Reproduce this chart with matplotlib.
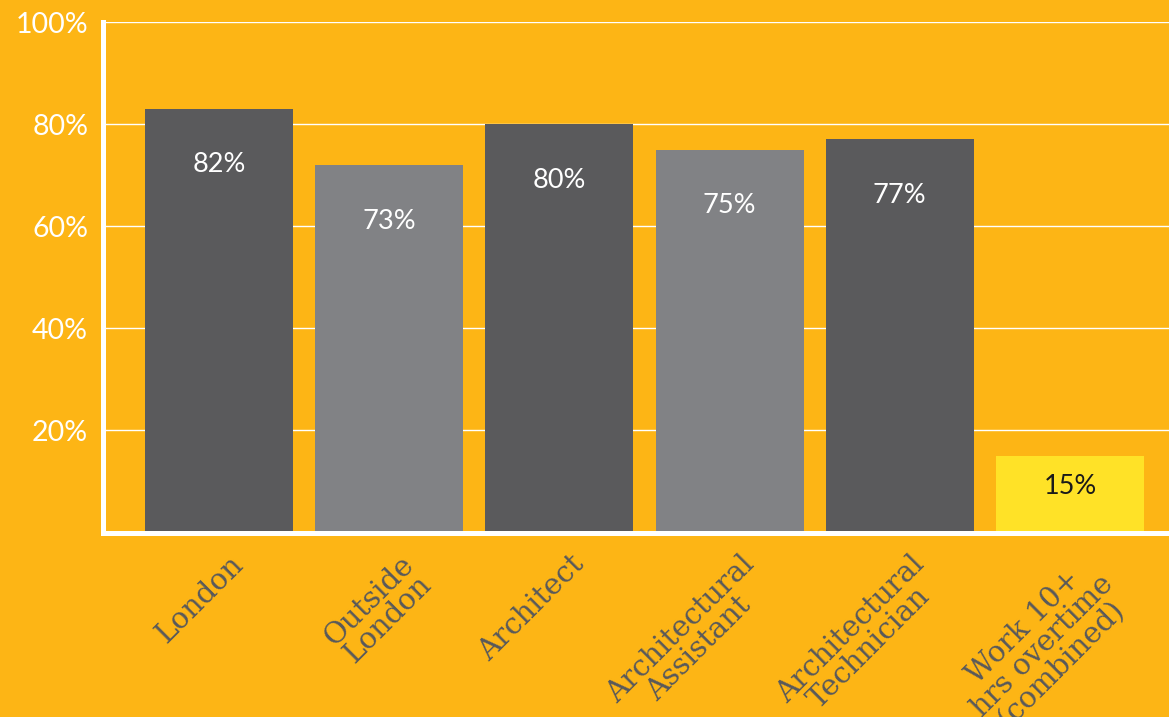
import matplotlib.pyplot as plt
from matplotlib.transforms import blended_transform_factory

categories = ['London', 'Outside\nLondon', 'Architect', 'Architectural\nAssistant',
              'Architectural\nTechnician', 'Work 10+\nhrs overtime\n(combined)']
heights = [83, 72, 80, 75, 77, 15]
value_labels = ['82%', '73%', '80%', '75%', '77%', '15%']
yticks = [20, 40, 60, 80, 100]

bg = '#FDB515'
bar_colors = ['#5A5A5C', '#818285', '#5A5A5C', '#818285', '#5A5A5C', '#FFE227']
text_colors = ['white'] * 5 + ['#1a1a1a']

fig = plt.figure(figsize=(11.69, 7.17), dpi=100, facecolor=bg)
ax = fig.add_axes([0.0885, 0.2573, 0.9115, 0.712])
ax.set_facecolor(bg)

x = list(range(len(categories)))
ax.bar(x, heights, width=0.87, color=bar_colors, zorder=3)

for i, h in enumerate(heights):
    ly = h - 11 if h > 30 else h * 0.6
    ax.text(i, ly, value_labels[i], ha='center', va='center', color=text_colors[i],
            fontsize=19.5, family='Lato', zorder=4)

ax.set_xlim(-0.679, 5.582)
ax.set_ylim(0, 100)
ax.set_yticks(yticks)
ax.set_yticklabels([f'{t}%' for t in yticks], color='white', fontsize=20.5, family='Lato')
ax.tick_params(axis='y', length=0, pad=11)
ax.set_xticks([])
ax.yaxis.grid(True, color='white', linewidth=1.0, zorder=1)
ax.set_axisbelow(True)

for s in ['top', 'right']:
    ax.spines[s].set_visible(False)
for s in ['left', 'bottom']:
    ax.spines[s].set_color('white')
    ax.spines[s].set_linewidth(3.6)
    ax.spines[s].set_zorder(5)

trans = blended_transform_factory(ax.transData, ax.transAxes)
for i, c in enumerate(categories):
    ax.text(i + 0.06, -0.035, c, transform=trans, rotation=45, rotation_mode='anchor',
            ha='right', va='top', multialignment='center', color='#58595B',
            fontsize=21, family='DejaVu Serif', linespacing=0.95)

fig.savefig('out.png', dpi=100, facecolor=bg)
